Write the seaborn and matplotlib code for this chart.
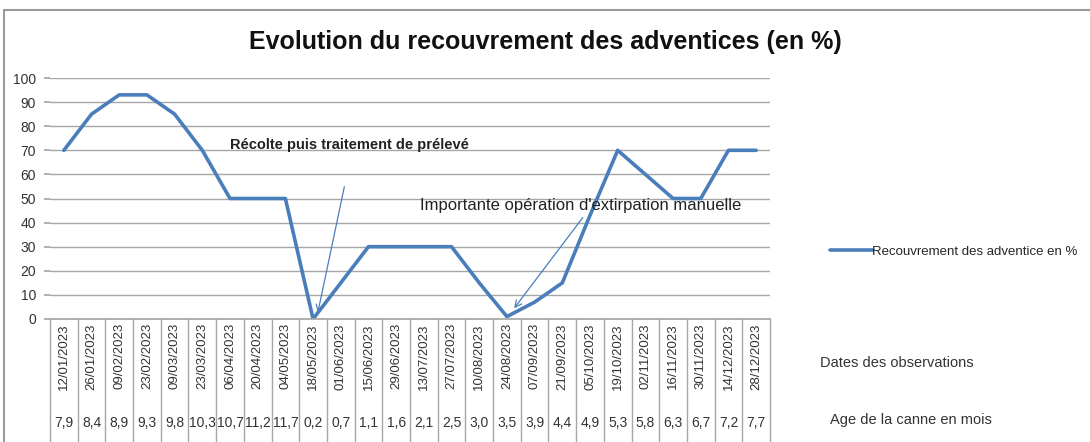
import pandas as pd
import numpy as np
import matplotlib
matplotlib.use("Agg")
import matplotlib.pyplot as plt
import seaborn as sns
from matplotlib.patches import Rectangle

# === DATA ===
dates = ["12/01/2023", "26/01/2023", "09/02/2023", "23/02/2023", "09/03/2023",
         "23/03/2023", "06/04/2023", "20/04/2023", "04/05/2023", "18/05/2023",
         "01/06/2023", "15/06/2023", "29/06/2023", "13/07/2023", "27/07/2023",
         "10/08/2023", "24/08/2023", "07/09/2023", "21/09/2023", "05/10/2023",
         "19/10/2023", "02/11/2023", "16/11/2023", "30/11/2023", "14/12/2023",
         "28/12/2023"]
ages = ["7,9", "8,4", "8,9", "9,3", "9,8", "10,3", "10,7", "11,2", "11,7", "0,2",
        "0,7", "1,1", "1,6", "2,1", "2,5", "3,0", "3,5", "3,9", "4,4", "4,9",
        "5,3", "5,8", "6,3", "6,7", "7,2", "7,7"]
recouvrement = [70, 85, 93, 93, 85, 70, 50, 50, 50, 0,
                15, 30, 30, 30, 30, 15, 1, 7, 15, 43,
                70, 60, 50, 50, 70, 70]

df = pd.DataFrame({"idx": range(len(dates)), "Date": dates, "Age": ages,
                   "Recouvrement": recouvrement})

# === STYLE ===
sns.set_theme(style="white")
plt.rcParams["font.family"] = ["Liberation Sans", "DejaVu Sans"]

LINE_COLOR = "#4a7ebb"
GRID_COLOR = "#a6a6a6"
W, H = 1090, 442

fig = plt.figure(figsize=(W / 100, H / 100), dpi=100)
fig.patch.set_facecolor("white")

# outer chart frame
fig.add_artist(Rectangle((4 / W, -0.05), 1.2, 1 - 10 / H + 0.05, transform=fig.transFigure,
                         fill=False, edgecolor="#9a9a9a", lw=1.5))

ax = fig.add_axes([50 / W, (H - 319) / H, 720 / W, (319 - 78) / H])

sns.lineplot(data=df, x="idx", y="Recouvrement", ax=ax, color=LINE_COLOR, lw=2.6,
             label="Recouvrement des adventice en %")

ax.set_xlim(-0.5, len(dates) - 0.5)
ax.set_ylim(0, 100)
ax.set_yticks(range(0, 101, 10))
ax.yaxis.grid(True, color=GRID_COLOR, lw=1)
ax.set_axisbelow(True)
for s in ["top", "right", "left"]:
    ax.spines[s].set_visible(False)
ax.spines["bottom"].set_color(GRID_COLOR)
ax.tick_params(axis="y", labelsize=10, colors="#333333", length=4, color=GRID_COLOR,
               left=True, pad=6)
ax.set_xticks([])
ax.set_xlabel("")
ax.set_ylabel("")

# === TABLE OF DATES / AGES BELOW THE AXIS ===
xt = ax.get_xaxis_transform()
for k in range(len(dates) + 1):
    ax.plot([k - 0.5, k - 0.5], [0, -0.505], transform=xt, color=GRID_COLOR,
            lw=1, clip_on=False)
for i, (d, a) in enumerate(zip(dates, ages)):
    ax.text(i, -0.155, d, transform=xt, rotation=90, ha="center", va="center",
            fontsize=9.5, color="#333333")
    ax.text(i, -0.43, a, transform=xt, ha="center", va="center",
            fontsize=10, color="#333333")

fig.text(820 / W, 1 - 363 / H, "Dates des observations", fontsize=10.5,
         color="#333333", va="center")
fig.text(830 / W, 1 - 420 / H, "Age de la canne en mois", fontsize=10.5,
         color="#333333", va="center")

# === ANNOTATIONS ===
ax.text(6.0, 72, "Récolte puis traitement de prélevé", fontsize=10.5,
        fontweight="bold", color="#222222", va="center")
ax.annotate("", xy=(9.15, 1.5), xytext=(10.15, 56),
            arrowprops=dict(arrowstyle="->", color=LINE_COLOR, lw=0.9))
ax.annotate("", xy=(16.2, 3.5), xytext=(18.8, 43),
            arrowprops=dict(arrowstyle="->", color=LINE_COLOR, lw=0.9))
ax.text(12.85, 47, "Importante opération d'extirpation manuelle", fontsize=12,
        color="#222222", va="center")

# === LEGEND ===
ax.legend(loc="center left", bbox_to_anchor=(825 / 720 - 50 / 720, 0.28), frameon=False,
          fontsize=9.5, handlelength=3.2, handletextpad=0.0, borderaxespad=0)

fig.text(0.5, 1 - 42 / H, "Evolution du recouvrement des adventices (en %)",
         ha="center", va="center", fontsize=18, fontweight="bold", color="#111111")

plt.savefig("out.png", dpi=100)
plt.close()
